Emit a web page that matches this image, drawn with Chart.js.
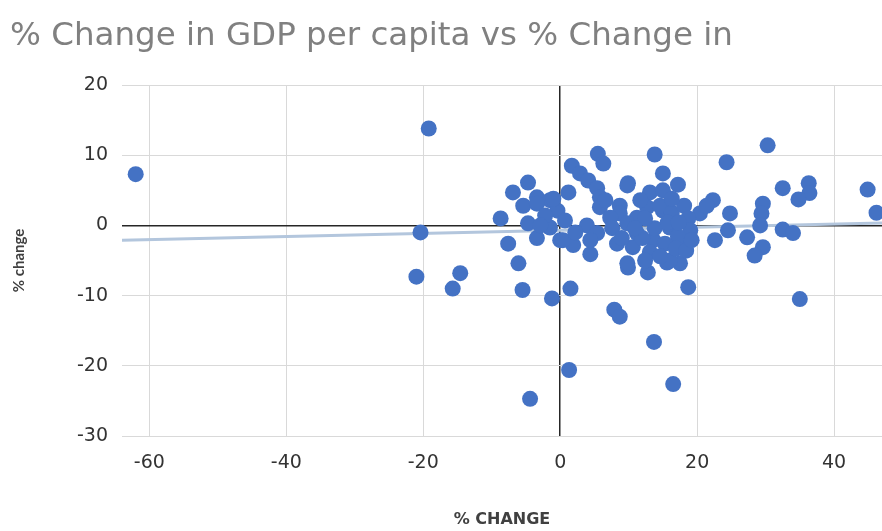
<!DOCTYPE html>
<html>
<head>
<meta charset="utf-8">
<script src="https://cdn.jsdelivr.net/npm/chart.js@4"></script>
<style>
  html, body { margin: 0; padding: 0; background: #fff; }
  #wrap { width: 882px; height: 531px; }
</style>
</head>
<body>
<div id="wrap"><canvas id="chart" width="882" height="531"></canvas></div>
<script>
// values
const gdpChange = [
  -62.0, -19.2, -20.4, -21.0, -14.6, -15.7, -8.7, -7.6, -6.1, -5.5,
  -1.2, 1.5, 1.3, -4.4, 7.9, 8.7, 13.7, 16.5, 18.7, 35.0,
  13.8, 5.5, 6.3, 30.3, 24.3, 32.5, 36.3, 36.4, 34.8, 44.9,
  46.2, 32.5, 34.0, 29.6, 29.4, 29.2, 29.6, 28.4, 27.3, 24.8,
  24.5, 22.6, 22.3, 20.4, 21.4, 15.0, 9.9, 17.2, 13.1, 15.0,
  8.7, 8.3, 9.9, 12.8, 15.6, 17.5, 18.7, 1.7, 2.9, 4.1,
  5.4, 5.8, 9.8, -4.7, -6.9, 1.2, -5.4, -3.4, -1.5, -0.4,
  -4.7, 0.7, -3.4, -1.5, 0.0, 1.9, 4.4, 3.9, 5.4, 8.7,
  9.8, 11.2, 12.7, 5.8, 7.3, 9.8, 10.6, 11.2, 13.6, 16.0,
  15.0, 16.0, -1.0, -3.4, 0.4, -2.2, -2.9, 14.6, 16.3, 18.1,
  18.7, 19.0, 17.2, 15.3, 13.8, 12.4, 12.0, 13.1, 14.6, 16.9,
  18.4, 15.7, 17.3, 10.9, 6.6, 7.6, 9.0, 11.7, 16.3, 19.2,
  12.4, 2.2, 4.4
]
const otherChange = [
  7.3, 13.8, -1.0, -7.3, -6.8, -9.0, 1.0, -2.6, -5.4, -9.2,
  -10.4, -9.0, -20.6, -24.7, -12.0, -13.0, -16.6, -22.6, -8.8, -10.5,
  10.1, 10.2, 8.8, 11.4, 9.0, 5.3, 6.0, 4.6, 3.7, 5.1,
  1.8, -0.6, -1.1, 3.1, 1.7, 0.0, -3.1, -4.3, -1.7, 1.7,
  -0.7, -2.1, 3.6, 1.7, 2.8, 7.4, 6.0, 5.8, 4.7, 5.0,
  2.8, -2.6, -6.0, -6.7, -5.3, -5.4, -2.1, 8.5, 7.4, 6.4,
  5.3, 4.0, 5.7, 6.1, 4.7, 4.7, 2.8, 4.0, 3.6, 2.1,
  0.3, 0.7, -1.8, -0.3, -2.1, -2.8, -4.1, 0.0, -1.1, 1.7,
  -5.4, 1.1, 2.6, 2.6, 1.1, 0.3, -3.1, -1.1, -2.1, -0.3,
  2.1, -5.0, 3.8, 3.1, -2.1, 1.4, 0.0, 2.8, 1.8, 2.8,
  1.0, -0.7, -1.6, -2.6, -0.4, 1.0, -1.8, -3.8, -4.4, -3.3,
  -3.6, 0.4, 0.4, -0.4, 3.6, -0.4, -1.8, 3.6, 3.8, -2.1,
  -5.0, -1.0, -2.1
]
const trendX = [-64, 47]
const trendY = [-2.1, 0.35]
const xTicks = [-60, -40, -20, 0, 20, 40]
const yTicks = [-30, -20, -10, 0, 10, 20]

const points = gdpChange.map((x, i) => ({ x: x, y: otherChange[i] }))
const trend = trendX.map((x, i) => ({ x: x, y: trendY[i] }))

const gridColor = (ctx) => ctx.tick && ctx.tick.value === 0 ? "#262626" : "#d9d9d9"
const gridWidth = (ctx) => ctx.tick && ctx.tick.value === 0 ? 1.5 : 1

new Chart(document.getElementById("chart"), {
  type: "scatter",
  data: {
    datasets: [
      {
        data: points,
        backgroundColor: "#4472c4",
        borderColor: "#4472c4",
        borderWidth: 0,
        pointRadius: 8,
        pointHoverRadius: 8,
        order: 1
      },
      {
        type: "line",
        data: trend,
        borderColor: "#b3c6dd",
        borderWidth: 3,
        pointRadius: 0,
        fill: false,
        order: 2
      }
    ]
  },
  options: {
    responsive: false,
    animation: false,
    layout: { padding: { left: 10 }, autoPadding: false },
    plugins: {
      legend: { display: false },
      tooltip: { enabled: false },
      title: {
        display: true,
        text: "% Change in GDP per capita vs % Change in",
        align: "start",
        color: "#808080",
        font: { family: "DejaVu Sans", size: 32.5, weight: "normal" },
        padding: { top: 17, bottom: 29 }
      }
    },
    scales: {
      x: {
        type: "linear",
        min: -64,
        max: 47,
        afterBuildTicks: (scale) => { scale.ticks = xTicks.map(v => ({ value: v })) },
        afterFit: (scale) => { scale.height = 95 },
        border: { display: false },
        grid: { color: gridColor, lineWidth: gridWidth, drawTicks: false },
        ticks: { color: "#333333", font: { family: "DejaVu Sans", size: 19 }, padding: 16, maxRotation: 0 },
        title: {
          display: true,
          text: "% CHANGE",
          color: "#404040",
          font: { family: "DejaVu Sans", size: 16, weight: "bold" },
          padding: { top: 0, bottom: 2 }
        }
      },
      y: {
        type: "linear",
        min: -30,
        max: 20,
        afterBuildTicks: (scale) => { scale.ticks = yTicks.map(v => ({ value: v })) },
        afterFit: (scale) => { scale.width = 112 },
        border: { display: false },
        grid: { color: gridColor, lineWidth: gridWidth, drawTicks: false },
        ticks: { color: "#333333", font: { family: "DejaVu Sans", size: 19 }, padding: 14 },
        title: {
          display: true,
          text: "% change",
          color: "#404040",
          font: { family: "Lato", size: 15, weight: "bold" },
          padding: { top: 0, bottom: 0 }
        }
      }
    }
  }
})
</script>
</body>
</html>
